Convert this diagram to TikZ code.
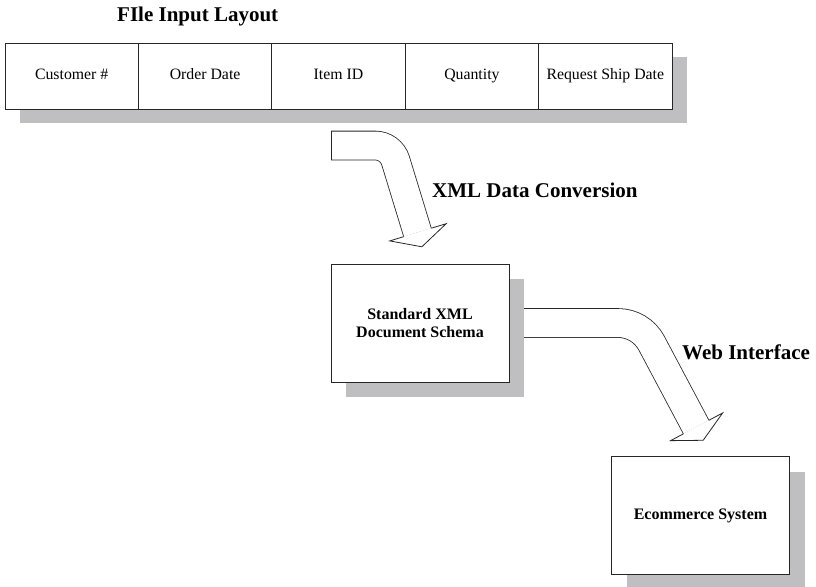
\documentclass[tikz,border=0pt]{standalone}
\usepackage{fontspec}
\setmainfont{Liberation Serif}
\usetikzlibrary{calc,shadows}
\def\normaledge{0.8}
\definecolor{edgeblack}{rgb}{0.15,0.15,0.15}
\definecolor{shadowgray}{RGB}{191,191,193}
\tikzset{
  fieldbox/.style={draw=edgeblack, line width=\normaledge, fill=white,
    minimum width=133.4pt, minimum height=66pt, inner sep=0pt, outer sep=0pt,
    text height=10.5pt, text depth=3.5pt,
    font=\fontsize{15.8}{18}\selectfont,
    drop shadow={shadow xshift=15pt, shadow yshift=-14pt, fill=shadowgray, opacity=1}},
  sysbox/.style={draw=edgeblack, line width=\normaledge, fill=white,
    minimum width=178pt, minimum height=118pt, inner sep=0pt, outer sep=0pt,
    align=center, font=\fontsize{16}{18}\selectfont\bfseries,
    drop shadow={shadow xshift=15pt, shadow yshift=-15pt, fill=shadowgray, opacity=1}},
  captiontext/.style={anchor=base west, inner sep=0pt, font=\fontsize{21}{25}\selectfont\bfseries},
  bigarrow/.style={line width=\normaledge, draw=edgeblack, double=white, double distance=28pt},
  arrowhead/.style={line width=\normaledge, draw=edgeblack, fill=white, line join=miter}
}
\begin{document}
\begin{tikzpicture}[x = 1pt, y = 1pt]
            \useasboundingbox (0,0) rectangle (816,-586);
            
            \node[captiontext] (title) at (117,-22) {FIle Input Layout};
            
            \node[fieldbox] (cust) at (71.7,-76) {Customer \#};
            \node[fieldbox] (date) at (205.1,-76) {Order Date};
            \node[fieldbox] (item) at (338.5,-76) {Item ID};
            \node[fieldbox] (qty) at (471.9,-76) {Quantity};
            \node[fieldbox] (ship) at (605.3,-76) {Request Ship Date};
            
            \node[sysbox] (sch) at (420,-323) {Standard XML\\Document Schema};
            \node[sysbox] (shop) at (700.5,-515.5) {Ecommerce System};
            
            % conversion arrow
            \coordinate (s1) at (331,-145.5);
            \draw[bigarrow] (s1) -- ++(44,0) arc[start angle=90, end angle=17, radius=21.5] -- ++(-73:75) coordinate (e1);
            \draw[line width=\normaledge, color=edgeblack] ($(s1)+(0,14.4)$) -- ($(s1)+(0,-14.4)$);
            \draw[arrowhead] ($(e1)+(17:14.4)$) -- ($(e1)+(17:30)$) -- ($(e1)+(-73:15)$) -- ($(e1)+(197:29)$) -- ($(e1)+(197:14.4)$);
            
            % web arrow
            \coordinate (s2) at ($(sch.east)+(15,0)$);
            \draw[bigarrow] (s2) -- ++(94,0) arc[start angle=90, end angle=28, radius=38] -- ++(-62:95) coordinate (e2);
            \draw[arrowhead] ($(e2)+(28:14.4)$) -- ($(e2)+(28:30)$) -- ($(e2)+(-62:15)$) -- ($(e2)+(208:29)$) -- ($(e2)+(208:14.4)$);
            
            \node[captiontext] (conv) at (432,-197) {XML Data Conversion};
            \node[captiontext] (web) at (682,-359) {Web Interface};
            
\end{tikzpicture}
\end{document}
